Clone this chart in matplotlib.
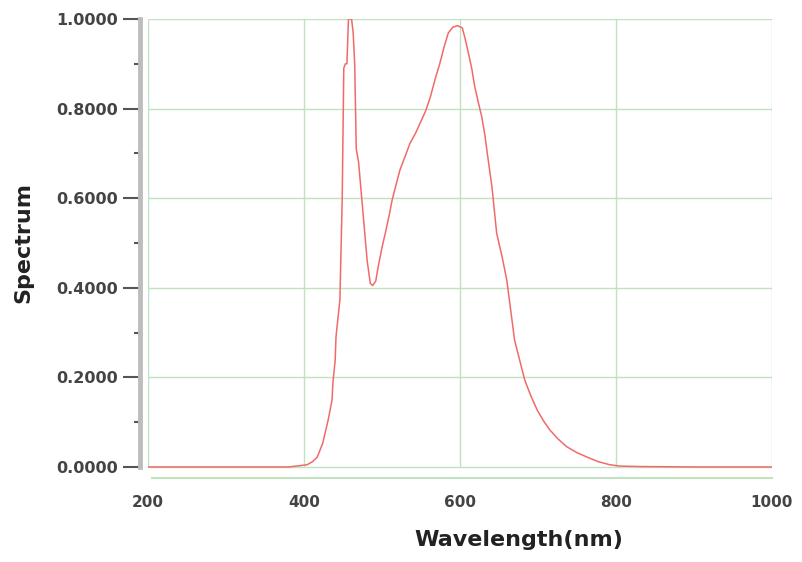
import matplotlib.pyplot as plt

# values
wavelength = [200, 300, 380, 395, 404, 411, 417, 424, 431, 436, 437, 440, 441, 446,
              449, 451, 453, 455, 457, 459, 461, 463, 465, 467, 470, 472, 476, 481, 485,
              488, 492, 495, 500, 504, 509, 513, 518, 523, 530, 536, 543, 549, 556,
              562, 568, 574, 580, 585, 591, 597, 603, 606, 610, 615, 619, 624, 628,
              632, 635, 641, 647, 654, 660, 665, 670, 677, 683, 691, 699, 707, 715,
              726, 737, 750, 763, 777, 792, 805, 830, 900, 1000]
spectrum = [0.0, 0.0, 0.0, 0.003, 0.005, 0.012, 0.022, 0.053, 0.105, 0.15, 0.187, 0.239,
            0.29, 0.373, 0.6, 0.89, 0.90, 0.90, 1.0, 1.0, 1.0, 0.97, 0.90, 0.71, 0.68,
            0.64, 0.56, 0.46, 0.41, 0.405, 0.415, 0.446, 0.49, 0.52, 0.56, 0.596, 0.63,
            0.663, 0.695, 0.723, 0.745, 0.768, 0.795, 0.826, 0.865, 0.90, 0.94, 0.969,
            0.982, 0.985, 0.98, 0.96, 0.93, 0.89, 0.848, 0.81, 0.781, 0.74, 0.70, 0.625,
            0.522, 0.469, 0.417, 0.35, 0.283, 0.235, 0.194, 0.158, 0.127, 0.103, 0.083,
            0.062, 0.045, 0.032, 0.022, 0.012, 0.005, 0.002, 0.001, 0.0, 0.0]

x_ticks = [200, 400, 600, 800, 1000]
y_ticks = [0.0, 0.2, 0.4, 0.6, 0.8, 1.0]
y_minor = [0.1, 0.3, 0.5, 0.7, 0.9]

grid_color = '#bfe3bf'
tick_font = 'DejaVu Sans'

fig = plt.figure(figsize=(8.02, 5.62), dpi=100)
ax = fig.add_axes([148 / 802, 1 - 478 / 562, (772 - 148) / 802, (478 - 19) / 562])

ax.set_xlim(200, 1000)
ax.set_ylim(-0.0246, 1.0)

# grid only spans the data range
ax.vlines(x_ticks, 0, 1, colors=grid_color, linewidth=1, zorder=1)
ax.hlines(y_ticks, 200, 1000, colors=grid_color, linewidth=1, zorder=1)

ax.plot(wavelength, spectrum, color='#f06a6a', linewidth=1.1, zorder=3)

for s in ['top', 'right']:
    ax.spines[s].set_visible(False)
ax.spines['left'].set_position(('outward', 6))
ax.spines['left'].set_bounds(0, 1)
ax.spines['left'].set_color('#bdbdbd')
ax.spines['left'].set_linewidth(3.5)
ax.spines['left'].set_zorder(5)
ax.spines['bottom'].set_color(grid_color)
ax.spines['bottom'].set_linewidth(1.5)
ax.spines['bottom'].set_bounds(205, 1000)

ax.set_xticks(x_ticks)
ax.set_xticklabels([str(v) for v in x_ticks])
ax.set_yticks(y_ticks)
ax.set_yticklabels([f'{v:.4f}' for v in y_ticks])
ax.set_yticks(y_minor, minor=True)
ax.tick_params(axis='x', length=0, pad=12, labelsize=11, colors='#444444')
ax.tick_params(axis='y', which='major', length=12, width=1.5, color='#555555',
               pad=3.5, labelsize=11.5, labelcolor='#444444')
ax.tick_params(axis='y', which='minor', length=4.5, width=1.5, color='#555555')
for lbl in ax.get_xticklabels() + ax.get_yticklabels():
    lbl.set_fontweight('bold')
    lbl.set_family(tick_font)

fig.text(519 / 802, 1 - 540 / 562, 'Wavelength(nm)', ha='center', va='center',
         fontsize=16, fontweight='bold', color='#222222')
fig.text(23 / 802, 1 - 242 / 562, 'Spectrum', ha='center', va='center',
         rotation=90, fontsize=16, fontweight='bold', color='#222222')

fig.savefig('out.png', dpi=100)
